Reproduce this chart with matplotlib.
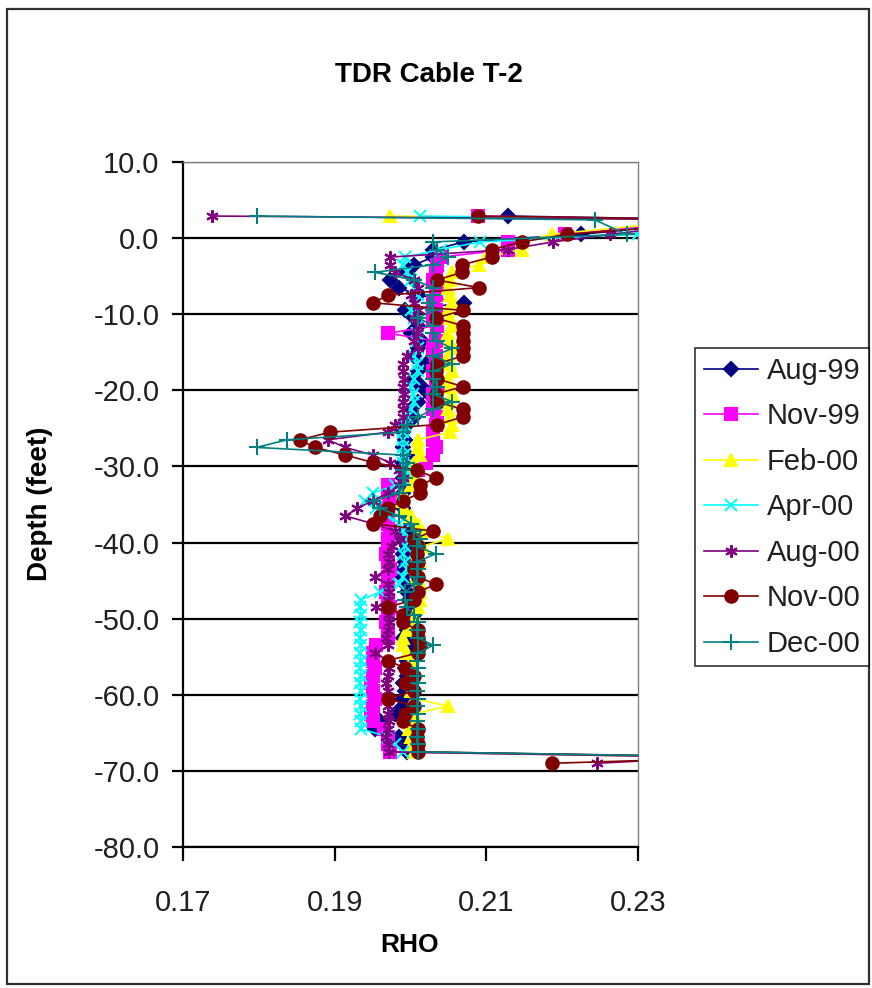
import matplotlib
matplotlib.use("Agg")
import matplotlib.pyplot as plt
from matplotlib.patches import Rectangle
from matplotlib.ticker import FuncFormatter

# TDR Cable T-2 : rho profiles for each reading date

depth = [2.9, 2.4, 0.5, -0.5, -1.5, -2.5, -3.5, -4.5, -5.5, -6.5,
         -7.5, -8.5, -9.5, -10.5, -11.5, -12.5, -13.5, -14.5, -15.5, -16.5,
         -17.5, -18.5, -19.5, -20.5, -21.5, -22.5, -23.5, -24.5, -25.5, -26.5,
         -27.5, -28.5, -29.5, -30.5, -31.5, -32.5, -33.5, -34.5, -35.5, -36.5,
         -37.5, -38.5, -39.5, -40.5, -41.5, -42.5, -43.5, -44.5, -45.5, -46.5,
         -47.5, -48.5, -49.5, -50.5, -51.5, -52.5, -53.5, -54.5, -55.5, -56.5,
         -57.5, -58.5, -59.5, -60.5, -61.5, -62.5, -63.5, -64.5, -65.5, -66.5,
         -67.5, -68.2, -69.0]

aug99 = [0.2128, 0.2420, 0.2225, 0.2071, 0.2030, 0.2030, 0.2005, 0.1995, 0.1973, 0.1985,
         0.2010, 0.2070, 0.1993, 0.2005, 0.2010, 0.2000, 0.2015, 0.2010, 0.2005, 0.2020,
         0.2010, 0.2005, 0.2015, 0.2025, 0.2010, 0.2000, 0.2005, 0.1995, 0.1990, 0.1993,
         0.1990, 0.1995, 0.1990, 0.1995, 0.1990, 0.1993, 0.1990, 0.1985, 0.1990, 0.1995,
         0.2000, 0.1995, 0.1990, 0.1995, 0.1990, 0.1993, 0.1990, 0.1990, 0.1993, 0.1995,
         0.1998, 0.2000, 0.2005, 0.2000, 0.1995, 0.1990, 0.1998, 0.2000, 0.1995, 0.1993,
         0.1995, 0.1990, 0.1993, 0.1990, 0.1990, 0.1980, 0.1960, 0.1953, 0.1985, 0.1990,
         0.1995, 0.2420, 0.2450]

nov99 = [0.2089, 0.2400, 0.2204, 0.2128, 0.2128, 0.2040, 0.2035, 0.2033, 0.2030, 0.2035,
         0.2033, 0.2030, 0.2033, 0.2030, 0.2035, 0.1970, 0.2033, 0.2030, 0.2033, 0.2035,
         0.2030, 0.2033, 0.2035, 0.2030, 0.2033, 0.2030, 0.2035, 0.2033, 0.2030, 0.2030,
         0.2033, 0.2030, 0.2020, 0.2010, 0.2000, 0.1970, 0.1970, 0.1973, 0.1970, 0.1968,
         0.1970, 0.1973, 0.1970, 0.1970, 0.1968, 0.1970, 0.1973, 0.1970, 0.1970, 0.1968,
         0.1970, 0.1973, 0.1970, 0.1968, 0.1970, 0.1970, 0.1955, 0.1950, 0.1950, 0.1953,
         0.1950, 0.1948, 0.1950, 0.1953, 0.1950, 0.1948, 0.1950, 0.1965, 0.1970, 0.1970,
         0.1973, 0.2400, 0.2430]

feb00 = [0.1973, 0.2380, 0.2186, 0.2147, 0.2147, 0.2100, 0.2090, 0.2055, 0.2052, 0.2050,
         0.2052, 0.2055, 0.2050, 0.2052, 0.2055, 0.2050, 0.2052, 0.2055, 0.2050, 0.2052,
         0.2055, 0.2050, 0.2052, 0.2055, 0.2052, 0.2050, 0.2052, 0.2055, 0.2052, 0.2010,
         0.2010, 0.2012, 0.2005, 0.2000, 0.2005, 0.2000, 0.1990, 0.1988, 0.1992, 0.2000,
         0.2010, 0.2015, 0.2050, 0.2015, 0.2010, 0.2012, 0.2010, 0.2008, 0.2012, 0.2013,
         0.2012, 0.2010, 0.2005, 0.2000, 0.1995, 0.1990, 0.1990, 0.1995, 0.2000, 0.1998,
         0.2000, 0.2002, 0.2000, 0.2005, 0.2050, 0.2005, 0.2000, 0.1998, 0.2000, 0.2002,
         0.2005, 0.2380, 0.2400]

apr00 = [0.2012, 0.2410, 0.2300, 0.2092, 0.2040, 0.1993, 0.1990, 0.1995, 0.2000, 0.2005,
         0.2010, 0.2005, 0.2000, 0.2005, 0.2010, 0.2008, 0.2009, 0.2010, 0.2005, 0.2008,
         0.2010, 0.2005, 0.2000, 0.2003, 0.2005, 0.2000, 0.1995, 0.1993, 0.1990, 0.1990,
         0.1990, 0.1992, 0.1990, 0.1993, 0.1990, 0.1980, 0.1950, 0.1940, 0.1955, 0.1970,
         0.1985, 0.1990, 0.1995, 0.1993, 0.1990, 0.1993, 0.1995, 0.1990, 0.1985, 0.1960,
         0.1935, 0.1933, 0.1935, 0.1933, 0.1935, 0.1933, 0.1935, 0.1933, 0.1935, 0.1933,
         0.1935, 0.1933, 0.1935, 0.1933, 0.1935, 0.1933, 0.1935, 0.1935, 0.1970, 0.1980,
         0.1990, 0.2430, 0.2450]

aug00 = [0.1738, 0.2430, 0.2263, 0.2188, 0.2128, 0.1973, 0.1973, 0.1980, 0.2005, 0.2010,
         0.2000, 0.2005, 0.2010, 0.2005, 0.2010, 0.2008, 0.2005, 0.2010, 0.1995, 0.1990,
         0.1990, 0.1992, 0.1990, 0.1992, 0.1990, 0.1990, 0.1990, 0.1980, 0.1970, 0.1891,
         0.1914, 0.1950, 0.1973, 0.1985, 0.1990, 0.1985, 0.1970, 0.1950, 0.1930, 0.1914,
         0.1950, 0.1980, 0.1986, 0.1975, 0.1970, 0.1972, 0.1970, 0.1953, 0.1970, 0.1972,
         0.1970, 0.1955, 0.1970, 0.1972, 0.1970, 0.1968, 0.1970, 0.1953, 0.1970, 0.1972,
         0.1970, 0.1968, 0.1970, 0.1972, 0.1970, 0.1970, 0.1972, 0.1970, 0.1968, 0.1970,
         0.1972, 0.2400, 0.2246]

nov00 = [0.2089, 0.2450, 0.2206, 0.2147, 0.2107, 0.2107, 0.2068, 0.2068, 0.2035, 0.2090,
         0.1970, 0.1951, 0.2069, 0.2033, 0.2069, 0.2069, 0.2069, 0.2069, 0.2069, 0.2035,
         0.2033, 0.2035, 0.2069, 0.2033, 0.2035, 0.2069, 0.2069, 0.2035, 0.1894, 0.1854,
         0.1874, 0.1914, 0.1951, 0.2009, 0.2033, 0.2013, 0.2013, 0.1990, 0.1970, 0.1960,
         0.1950, 0.2030, 0.2005, 0.2010, 0.2008, 0.2010, 0.2005, 0.2010, 0.2033, 0.2010,
         0.2005, 0.1970, 0.1990, 0.1990, 0.2010, 0.2010, 0.2012, 0.2010, 0.1970, 0.1993,
         0.2005, 0.1993, 0.2005, 0.1970, 0.2005, 0.1993, 0.1990, 0.2010, 0.2008, 0.2010,
         0.2010, 0.2450, 0.2186]

dec00 = [0.1798, 0.2243, 0.2285, 0.2030, 0.2035, 0.2050, 0.2030, 0.1953, 0.2005, 0.2030,
         0.2030, 0.2025, 0.2030, 0.2010, 0.2030, 0.2030, 0.2035, 0.2055, 0.2030, 0.2055,
         0.2030, 0.2030, 0.2035, 0.2030, 0.2055, 0.2030, 0.2010, 0.1995, 0.1990, 0.1837,
         0.1797, 0.1990, 0.1995, 0.1990, 0.1993, 0.1990, 0.1985, 0.1950, 0.1960, 0.1985,
         0.2000, 0.2005, 0.2013, 0.2009, 0.2033, 0.2009, 0.2010, 0.2009, 0.2005, 0.1993,
         0.1993, 0.1995, 0.2005, 0.2010, 0.2009, 0.2010, 0.2030, 0.2010, 0.2009, 0.2010,
         0.2009, 0.2010, 0.2009, 0.2010, 0.2009, 0.2010, 0.2009, 0.2010, 0.2009, 0.2010,
         0.2010, 0.2440, 0.2470]

labels = ["Aug-99", "Nov-99", "Feb-00", "Apr-00", "Aug-00", "Nov-00", "Dec-00"]
series = [aug99, nov99, feb00, apr00, aug00, nov00, dec00]
colors = ["#000080", "#FF00FF", "#FFFF00", "#00FFFF", "#800080", "#800000", "#008080"]
markers = ["D", "s", "^", "x", (6, 2, 0), "o", "+"]
msizes = [7, 8, 9, 8, 9, 9, 11]

plt.rcParams["font.family"] = ["Liberation Sans", "DejaVu Sans"]
plt.rcParams["axes.unicode_minus"] = False

W, H = 872, 988
fig = plt.figure(figsize=(W / 100, H / 100), dpi=100)
fig.patch.set_facecolor("white")

# plot area in pixels: x 183..638, y 162..847
ax = fig.add_axes([183 / W, 1 - 847 / H, (638 - 183) / W, (847 - 162) / H])

for vals, lab, c, m, ms in zip(series, labels, colors, markers, msizes):
    ax.plot(vals, depth, color=c, lw=1.2, marker=m, markersize=ms,
            markerfacecolor=c, markeredgecolor=c, markeredgewidth=1.5,
            label=lab, zorder=3)

ax.set_xlim(0.17, 0.23)
ax.set_ylim(-80, 10)
ax.set_xticks([0.17, 0.19, 0.21, 0.23])
ax.set_xticklabels(["0.17", "0.19", "0.21", "0.23"])
ax.set_yticks([10, 0, -10, -20, -30, -40, -50, -60, -70, -80])
ax.yaxis.set_major_formatter(FuncFormatter(lambda v, p: "%.1f" % v))

ax.set_axisbelow(True)
ax.grid(axis="y", color="black", lw=1.6)
ax.grid(axis="x", visible=False)

for s in ["left", "bottom"]:
    ax.spines[s].set_color("black")
    ax.spines[s].set_linewidth(1.6)
for s in ["top", "right"]:
    ax.spines[s].set_color("#808080")
    ax.spines[s].set_linewidth(1.0)

ax.tick_params(axis="y", direction="out", length=8, width=1.6, pad=9,
               labelsize=21, colors="black")
ax.tick_params(axis="x", direction="out", length=10, width=1.6, pad=20,
               labelsize=21, colors="black")
for t in ax.get_xticklabels() + ax.get_yticklabels():
    t.set_color("#202020")

fig.text(0.492, 1 - 75 / H, "TDR Cable T-2", ha="center", va="center",
         fontsize=20, fontweight="bold")
fig.text(410 / W, 1 - 945 / H, "RHO", ha="center", va="center",
         fontsize=19, fontweight="bold")
fig.text(40 / W, 1 - 504 / H, "Depth (feet)", ha="center", va="center",
         rotation=90, fontsize=20, fontweight="bold")

leg = fig.legend(loc="upper left", bbox_to_anchor=(695 / W, 1 - 348 / H),
                 fontsize=21, frameon=True, fancybox=False, shadow=False,
                 borderpad=0.3, labelspacing=0.6, handlelength=1.85,
                 handletextpad=0.3, borderaxespad=0.0)
leg.get_frame().set_edgecolor("black")
leg.get_frame().set_linewidth(1.2)
for t in leg.get_texts():
    t.set_color("#202020")

# chart area border
fig.patches.append(Rectangle((7 / W, 1 - 984 / H), (869 - 7) / W, (984 - 9) / H,
                             transform=fig.transFigure, fill=False,
                             edgecolor="#303030", lw=1.6))

fig.savefig("out.png", dpi=100)
